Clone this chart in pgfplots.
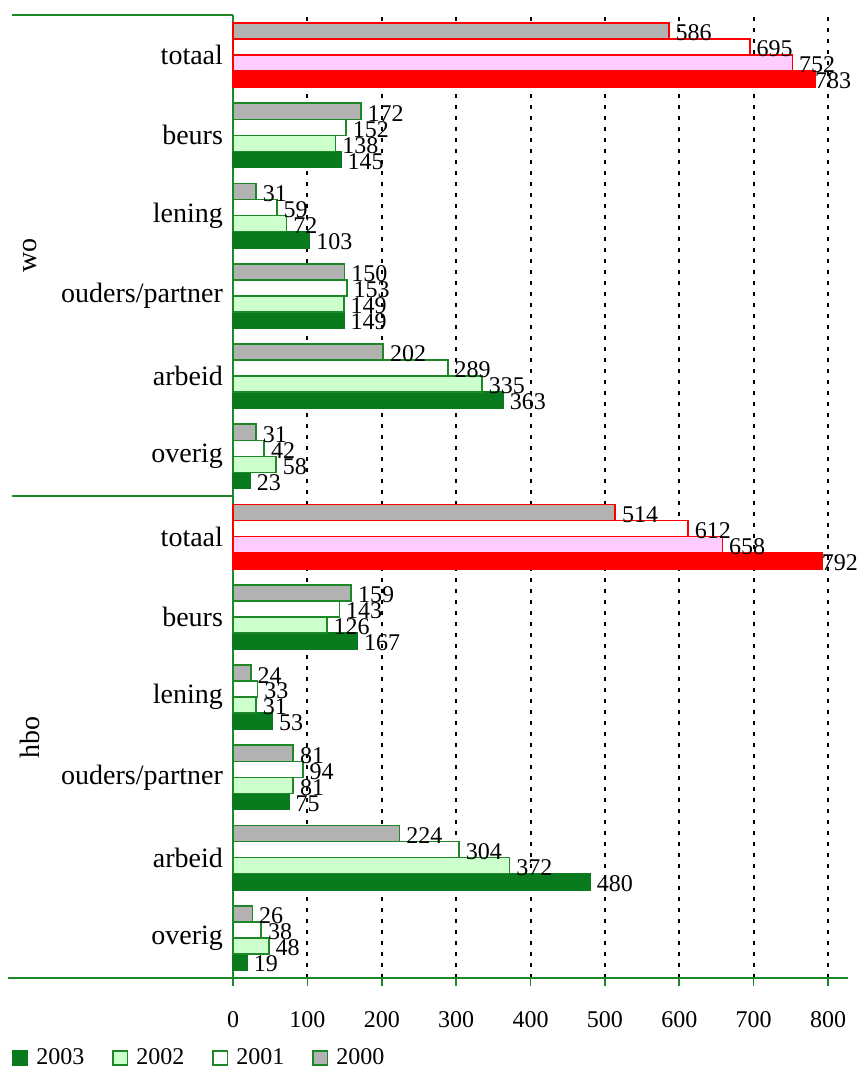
\documentclass[border=0pt]{standalone}
\usepackage{fontspec}
\setmainfont{Liberation Serif}
\usepackage{pgfplots}
\pgfplotsset{compat=1.18}
\definecolor{dg}{RGB}{10,122,30}
\definecolor{bg}{RGB}{30,135,40}
\definecolor{lg}{RGB}{204,255,204}
\definecolor{gr}{RGB}{178,178,178}
\definecolor{pk}{RGB}{255,204,255}
\definecolor{rd}{RGB}{255,0,0}
\begin{document}
\begin{tikzpicture}
\begin{axis}[
  scale only axis, width=297.5pt, height=481.5pt,
  xmin=0, xmax=800, ymin=-0.5, ymax=11.5,
  axis x line*=bottom, axis y line*=left,
  axis line style={-, draw=bg, line width=1pt},
  xtick={0,100,...,800},
  xticklabel style={font=\fontsize{12}{14}\selectfont, yshift=-9pt},
  xtick align=outside, major tick length=4pt,
  xtick style={draw=bg, line width=0.8pt},
  ytick={0,...,11},
  yticklabels={overig,arbeid,ouders/partner,lening,beurs,totaal,overig,arbeid,ouders/partner,lening,beurs,totaal},
  ytick style={draw=none},
  yticklabel style={font=\fontsize{14}{16}\selectfont, xshift=-1.5pt},
  xmajorgrids, grid style={black, line width=1pt, dash pattern=on 2pt off 3.5pt},
  clip=false,
  point meta=x,
  nodes near coords,
  every node near coord/.append style={anchor=west, font=\fontsize{12}{14}\selectfont, inner sep=1pt, xshift=2pt, black},
  /pgf/number format/assume math mode=true,
  legend columns=4,
  legend style={draw=none, fill=none, at={(axis cs:0,-0.5)}, anchor=west, xshift=-110.5pt, yshift=-40pt, font=\fontsize{12}{14}\selectfont, inner sep=0pt, nodes={inner sep=0pt}, /tikz/every odd column/.append style={column sep=4pt}, /tikz/every even column/.append style={column sep=14pt}},
  mybar/.style={xbar, bar width=0.2, line width=0.8pt, legend image code/.code={\draw[##1, line width=0.8pt] (0pt,-3.6pt) rectangle (7.2pt,3.6pt);}},
  s3/.style={bar shift=-0.3, every node near coord/.append style={yshift=-13pt}},
  s2/.style={bar shift=-0.1, every node near coord/.append style={yshift=-5pt}},
  s1/.style={bar shift=0.1, every node near coord/.append style={yshift=3pt}},
  s0/.style={bar shift=0.3, every node near coord/.append style={yshift=11pt}},
]
% regular categories
\addplot[mybar, s3, fill=dg, draw=dg] coordinates {(145,10) (103,9) (149,8) (363,7) (23,6) (167,4) (53,3) (75,2) (480,1) (19,0)};
\addlegendentry{2003}
\addplot[mybar, s2, fill=lg, draw=bg] coordinates {(138,10) (72,9) (149,8) (335,7) (58,6) (126,4) (31,3) (81,2) (372,1) (48,0)};
\addlegendentry{2002}
\addplot[mybar, s1, fill=white, draw=bg] coordinates {(152,10) (59,9) (153,8) (289,7) (42,6) (143,4) (33,3) (94,2) (304,1) (38,0)};
\addlegendentry{2001}
\addplot[mybar, s0, fill=gr, draw=bg] coordinates {(172,10) (31,9) (150,8) (202,7) (31,6) (159,4) (24,3) (81,2) (224,1) (26,0)};
\addlegendentry{2000}
% totaal
\addplot[mybar, s3, forget plot, fill=rd, draw=rd, every node near coord/.append style={xshift=-3.5pt}] coordinates {(783,11) (792,5)};
\addplot[mybar, s2, forget plot, fill=pk, draw=rd] coordinates {(752,11) (658,5)};
\addplot[mybar, s1, forget plot, fill=white, draw=rd] coordinates {(695,11) (612,5)};
\addplot[mybar, s0, forget plot, fill=gr, draw=rd] coordinates {(586,11) (514,5)};
% separators
\draw[bg, line width=1pt] ([xshift=-110.5pt]axis cs:0,11.5) -- (axis cs:0,11.5);
\draw[bg, line width=1pt] ([xshift=-110.5pt]axis cs:0,5.5) -- (axis cs:0,5.5);
\draw[bg, line width=1pt] ([xshift=-112.5pt]axis cs:0,-0.5) -- ([xshift=10pt]axis cs:800,-0.5);
\node[rotate=90, font=\fontsize{14}{16}\selectfont] at ([xshift=-101.5pt]axis cs:0,8.5) {wo};
\node[rotate=90, font=\fontsize{14}{16}\selectfont] at ([xshift=-101.5pt]axis cs:0,2.5) {hbo};
\coordinate (BL) at (axis cs:0,-0.5);
\coordinate (TR) at (axis cs:800,11.5);
\end{axis}
\pgfresetboundingbox
\path[use as bounding box] ([shift={(-116.5pt,-45pt)}]BL) rectangle ([shift={(14pt,7.5pt)}]TR);
\end{tikzpicture}
\end{document}
